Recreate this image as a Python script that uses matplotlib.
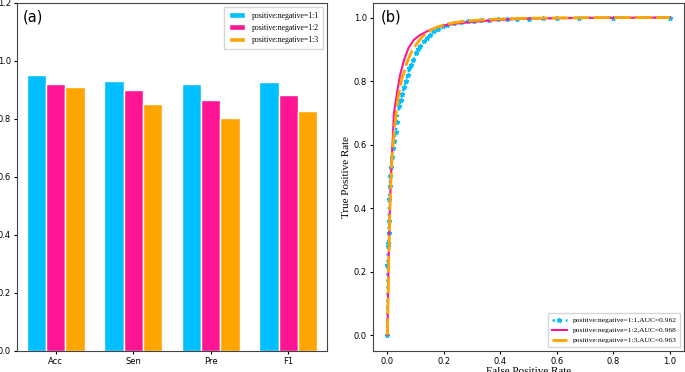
import matplotlib

matplotlib.use("Agg")
import matplotlib.pyplot as plt
import numpy as np

# (a) bar metrics
metrics = ["Acc", "Sen", "Pre", "F1"]
ratio_labels = ["positive:negative=1:1", "positive:negative=1:2", "positive:negative=1:3"]
vals_11 = [0.950, 0.931, 0.921, 0.926]
vals_12 = [0.920, 0.899, 0.865, 0.881]
vals_13 = [0.910, 0.850, 0.805, 0.826]

# (b) ROC points
fpr_11 = [0.0, 0.0, 0.002, 0.003, 0.004, 0.005, 0.006, 0.008, 0.010, 0.012, 0.016, 0.020,
          0.024, 0.029, 0.034, 0.041, 0.047, 0.053, 0.059, 0.066, 0.072, 0.078, 0.085, 0.092,
          0.100, 0.108, 0.117, 0.129, 0.140, 0.152, 0.165, 0.180, 0.195, 0.212, 0.235, 0.26,
          0.285, 0.306, 0.33, 0.36, 0.39, 0.424, 0.46, 0.5, 0.55, 0.6, 0.68, 0.8, 1.0]
tpr_11 = [0.0, 0.22, 0.28, 0.29, 0.32, 0.36, 0.43, 0.47, 0.50, 0.53, 0.56, 0.59,
          0.61, 0.64, 0.67, 0.72, 0.74, 0.76, 0.78, 0.80, 0.82, 0.84, 0.85, 0.865,
          0.889, 0.90, 0.91, 0.925, 0.935, 0.945, 0.957, 0.965, 0.972, 0.978, 0.982, 0.985,
          0.988, 0.990, 0.991, 0.993, 0.994, 0.995, 0.996, 0.997, 0.998, 0.999, 0.999, 1.0, 1.0]

fpr_12 = [0.0, 0.004, 0.008, 0.012, 0.016, 0.020, 0.023, 0.030, 0.035, 0.045, 0.059, 0.075,
          0.094, 0.115, 0.141, 0.165, 0.188, 0.24, 0.306, 0.40, 0.5, 0.7, 1.0]
tpr_12 = [0.0, 0.22, 0.38, 0.49, 0.57, 0.64, 0.70, 0.74, 0.77, 0.82, 0.867, 0.905,
          0.93, 0.945, 0.957, 0.966, 0.973, 0.981, 0.987, 0.993, 0.997, 0.999, 1.0]

fpr_13 = [0.0, 0.002, 0.004, 0.006, 0.009, 0.012, 0.015, 0.020, 0.026, 0.032, 0.038, 0.045,
          0.052, 0.060, 0.068, 0.077, 0.087, 0.098, 0.110, 0.124, 0.140, 0.158, 0.178,
          0.20, 0.23, 0.27, 0.31, 0.36, 0.42, 0.5, 0.6, 0.75, 1.0]
tpr_13 = [0.0, 0.10, 0.20, 0.30, 0.40, 0.48, 0.54, 0.60, 0.66, 0.71, 0.75, 0.78,
          0.81, 0.83, 0.855, 0.875, 0.895, 0.91, 0.925, 0.94, 0.952, 0.963, 0.971,
          0.977, 0.983, 0.988, 0.991, 0.994, 0.996, 0.998, 0.999, 1.0, 1.0]

auc = ["0.962", "0.968", "0.963"]
colors = ["#00BFFF", "#FF1493", "#FFA500"]

fig = plt.figure(figsize=(6.85, 3.72), dpi=100)
serif = ["Liberation Serif", "DejaVu Serif"]

# ---- (a)
ax1 = fig.add_axes([0.0248, 0.0565, 0.4526, 0.9355])
x = np.arange(len(metrics))
w = 0.25
for i, (v, lab) in enumerate(zip([vals_11, vals_12, vals_13], ratio_labels)):
    ax1.bar(x + (i - 1) * w, v, w, color=colors[i], edgecolor="white", linewidth=1, label=lab)
ax1.set_xlim(-0.5, 3.5)
ax1.set_ylim(0, 1.2)
ax1.set_xticks(x)
ax1.set_xticklabels(metrics)
ax1.tick_params(labelsize=6, length=2.5, pad=2)
ax1.text(0.02, 0.98, "(a)", transform=ax1.transAxes, fontsize=10.5, va="top")
ax1.legend(loc="upper right", prop={"family": serif, "size": 5.6}, handlelength=2.1,
           fancybox=False, borderpad=0.6, labelspacing=0.55)

# ---- (b)
ax2 = fig.add_axes([0.545, 0.0565, 0.4535, 0.9355])
ax2.plot(fpr_11, tpr_11, linestyle=":", marker="*", markersize=3.5, color=colors[0],
         linewidth=1.8, label=ratio_labels[0] + ",AUC=" + auc[0])
ax2.plot(fpr_12, tpr_12, linestyle="-", color=colors[1], linewidth=1.5,
         label=ratio_labels[1] + ",AUC=" + auc[1])
ax2.plot(fpr_13, tpr_13, linestyle="--", dashes=(6, 1.5), color=colors[2], linewidth=2,
         label=ratio_labels[2] + ",AUC=" + auc[2])
ax2.set_xlim(-0.05, 1.05)
ax2.set_ylim(-0.05, 1.046)
ax2.set_xticks([0, 0.2, 0.4, 0.6, 0.8, 1.0])
ax2.set_yticks([0, 0.2, 0.4, 0.6, 0.8, 1.0])
ax2.tick_params(labelsize=6, length=2.5, pad=2)
ax2.set_xlabel("False Positive Rate", family=serif, fontsize=8, labelpad=0.5)
ax2.set_ylabel("True Positive Rate", family=serif, fontsize=8, labelpad=2)
ax2.text(0.025, 0.98, "(b)", transform=ax2.transAxes, fontsize=10.5, va="top")
ax2.legend(loc="lower right", prop={"family": serif, "size": 5.4}, handlelength=2.0,
           fancybox=False, borderpad=0.5)

for ax in (ax1, ax2):
    for s in ax.spines.values():
        s.set_color("#444444")

fig.savefig("out.png", dpi=100)
